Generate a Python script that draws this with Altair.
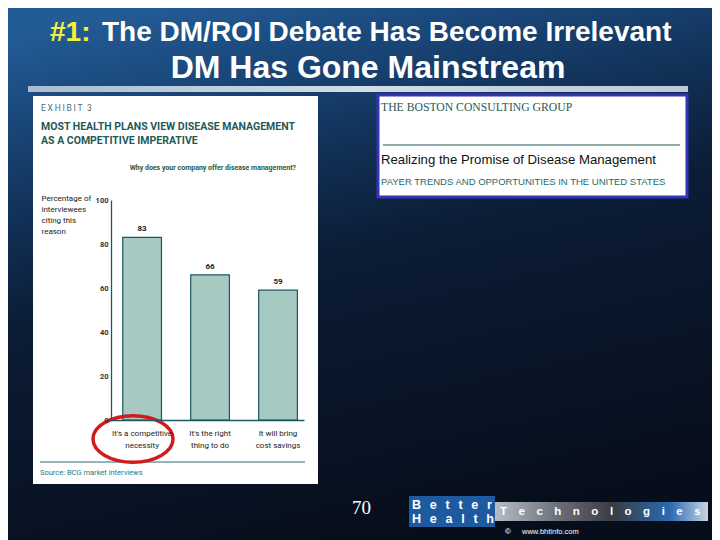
import altair as alt
import pandas as pd

# ---- data ----
categories = ["It's a competitive\nnecessity", "It's the right\nthing to do", "It will bring\ncost savings"]
values = [83, 66, 59]
y_ticks = [0, 20, 40, 60, 80, 100]

# reference origin of the plot area (page pixels)
OX, OY = 111, 200
PW, PH = 193, 220

COND = "Roboto, Liberation Sans, sans-serif"
SANS = "Liberation Sans, Arial, sans-serif"
SERIF = "Liberation Serif, Times New Roman, serif"

one = alt.Data(values=[{}])


def X(v):
    return alt.value(v - OX)


def Y(v):
    return alt.value(v - OY)


def rect(x0, y0, x1, y1, **kw):
    return alt.Chart(one).mark_rect(**kw).encode(x=X(x0), x2=X(x1), y=Y(y0), y2=Y(y1))


def txt(s, x, y, align="left", **kw):
    return alt.Chart(one).mark_text(text=s, align=align, baseline="middle", **kw).encode(x=X(x), y=Y(y))


def rule(x0, y0, x1, y1, **kw):
    return alt.Chart(one).mark_rule(**kw).encode(x=X(x0), x2=X(x1), y=Y(y0), y2=Y(y1))


bg = rect(8, 8, 712, 540, color=alt.Gradient(
    gradient="linear", x1=0.2, y1=0, x2=0.5, y2=1,
    stops=[alt.GradientStop(color="#235b95", offset=0),
           alt.GradientStop(color="#1b4a7e", offset=0.12),
           alt.GradientStop(color="#123259", offset=0.3),
           alt.GradientStop(color="#0b1c35", offset=0.5),
           alt.GradientStop(color="#070e1b", offset=1)]))

stripe = rect(28, 86, 688, 92, opacity=0.9, color=alt.Gradient(
    gradient="linear", x1=0, y1=0, x2=1, y2=0,
    stops=[alt.GradientStop(color="#b9c8d8", offset=0),
           alt.GradientStop(color="#e6eef5", offset=0.5),
           alt.GradientStop(color="#cfdbe6", offset=1)]))

panel = rect(33, 96, 318, 484, color="white")

title1a = txt("#1:", 50, 33, fontSize=28, fontWeight="bold", font=SANS, color="#f2f23a")
title1b = txt("The DM/ROI Debate Has Become Irrelevant", 102, 33, fontSize=28, fontWeight="bold", font=SANS, color="white")
title2 = txt("DM Has Gone Mainstream", 368, 68, align="center", fontSize=32, fontWeight="bold", font=SANS, color="white")

ex1 = txt("\u2009".join("EXHIBIT") + "\u2002" + "3", 41, 108, fontSize=8.5, font=COND, color="#4f6d72")
ex2 = txt("MOST HEALTH PLANS VIEW DISEASE MANAGEMENT", 41, 127, fontSize=10.5, fontWeight="bold", font=COND, color="#1f5a57")
ex3 = txt("AS A COMPETITIVE IMPERATIVE", 41, 141, fontSize=10.5, fontWeight="bold", font=COND, color="#1f5a57")
ex4 = txt("Why does your company offer disease management?", 296, 168, align="right", fontSize=7, fontWeight="bold", font=COND, color="#2d5a3c")

src_rule = rule(40, 462, 305, 462, color="#2a6a70", strokeWidth=1)
src = txt("Source: BCG market interviews", 40, 473, fontSize=7.5, font=COND, color="#2a7a7a")

df = pd.DataFrame({"reason": categories, "pct": values})

x_enc = alt.X("reason:N", sort=None,
              scale=alt.Scale(paddingInner=0.43, paddingOuter=0.135, align=0.64),
              axis=alt.Axis(title=None, labelExpr="split(datum.label, '\\n')", labelAngle=0,
                            labelFont=COND, labelFontSize=8, labelColor="#222222", labelPadding=9,
                            labelLineHeight=12, labelBaseline="top",
                            tickSize=0, domainColor="#1d5866", domainWidth=1.3, zindex=1))
y_enc = alt.Y("pct:Q", scale=alt.Scale(domain=[0, 100]),
              axis=alt.Axis(values=y_ticks, grid=False, tickSize=0, labelPadding=3,
                            labelFont=COND, labelFontSize=7.5, labelFontWeight="bold", labelColor="#333333",
                            domainColor="#1d5866", domainWidth=1.3, zindex=1,
                            title=["Percentage of", "interviewees", "citing this", "reason"],
                            titleAngle=0, titleAlign="left", titleBaseline="top",
                            titleX=41 - OX, titleY=194 - OY, titleFont=COND, titleFontSize=8,
                            titleFontWeight="normal", titleColor="#222222", titleLineHeight=11))

bars = alt.Chart(df).mark_bar(fill="#a6c9c1", stroke="#1d5866", strokeWidth=1.2).encode(x=x_enc, y=y_enc)
bar_labels = alt.Chart(df).mark_text(baseline="bottom", dy=-4, font=COND, fontSize=8, fontWeight="bold",
                                     color="#222222").encode(x=alt.X("reason:N", sort=None),
                                                             y="pct:Q", text="pct:Q")

ellipse = alt.Chart(one).mark_point(
    shape="M-1,0 A1,0.58 0 1,1 1,0 A1,0.58 0 1,1 -1,0 Z",
    size=6400, filled=False, stroke="#d21c1c", strokeWidth=3.5, opacity=1
).encode(x=X(133), y=Y(439))

# BCG box
bcg_box = rect(378, 95, 687, 197, color="white", stroke="#3434b4", strokeWidth=3)
bcg1 = txt("THE BOSTON CONSULTING GROUP", 381, 107, fontSize=11.7, font=SERIF, color="#2a5a55")
bcg_rule = rule(383, 145, 680, 145, color="#1f5a5a", strokeWidth=1)
bcg2 = txt("Realizing the Promise of Disease Management", 381, 160, fontSize=13.2, font=SANS, color="#111111")
bcg3 = txt("PAYER TRENDS AND OPPORTUNITIES IN THE UNITED STATES", 381, 182, fontSize=9.5, font=SANS, color="#1e6a6a")

# footer
page = txt("70", 352, 508, fontSize=19, font=SERIF, color="white")
logo_blue = rect(409, 496, 495, 527, color="#1d5aa0")
sp = "\u2002\u2009"
better = txt(sp.join("Better"), 412, 505, fontSize=12.5, fontWeight="bold", font=SANS, color="white")
health = txt(sp.join("Health"), 412, 519, fontSize=12.5, fontWeight="bold", font=SANS, color="white")
tech_box = rect(495, 502, 708, 521, color=alt.Gradient(
    gradient="linear", x1=0, y1=0, x2=1, y2=0,
    stops=[alt.GradientStop(color="#b8bcc8", offset=0),
           alt.GradientStop(color="#6a6e78", offset=0.3),
           alt.GradientStop(color="#3a3c44", offset=0.55),
           alt.GradientStop(color="#2a6ab0", offset=0.82),
           alt.GradientStop(color="#c8d4e4", offset=1)]))
tech = txt("\u2003".join("Technologies"), 500, 511.5, fontSize=11.5, fontWeight="bold", font=SANS, color="white")
copy = txt("\u00a9", 505, 532, fontSize=8, fontWeight="bold", font=SANS, color="white")
url = txt("www.bhtinfo.com", 522, 532, fontSize=7.5, font=SANS, color="white")

chart = alt.layer(
    bg, stripe, panel, title1a, title1b, title2,
    ex1, ex2, ex3, ex4, src_rule, src,
    bars, bar_labels, ellipse,
    bcg_box, bcg1, bcg_rule, bcg2, bcg3,
    page, logo_blue, better, health, tech_box, tech, copy, url
).properties(width=PW, height=PH, padding=0).configure_view(stroke="transparent")

chart.save("out.html", embed_options={"renderer": "svg", "actions": False})
